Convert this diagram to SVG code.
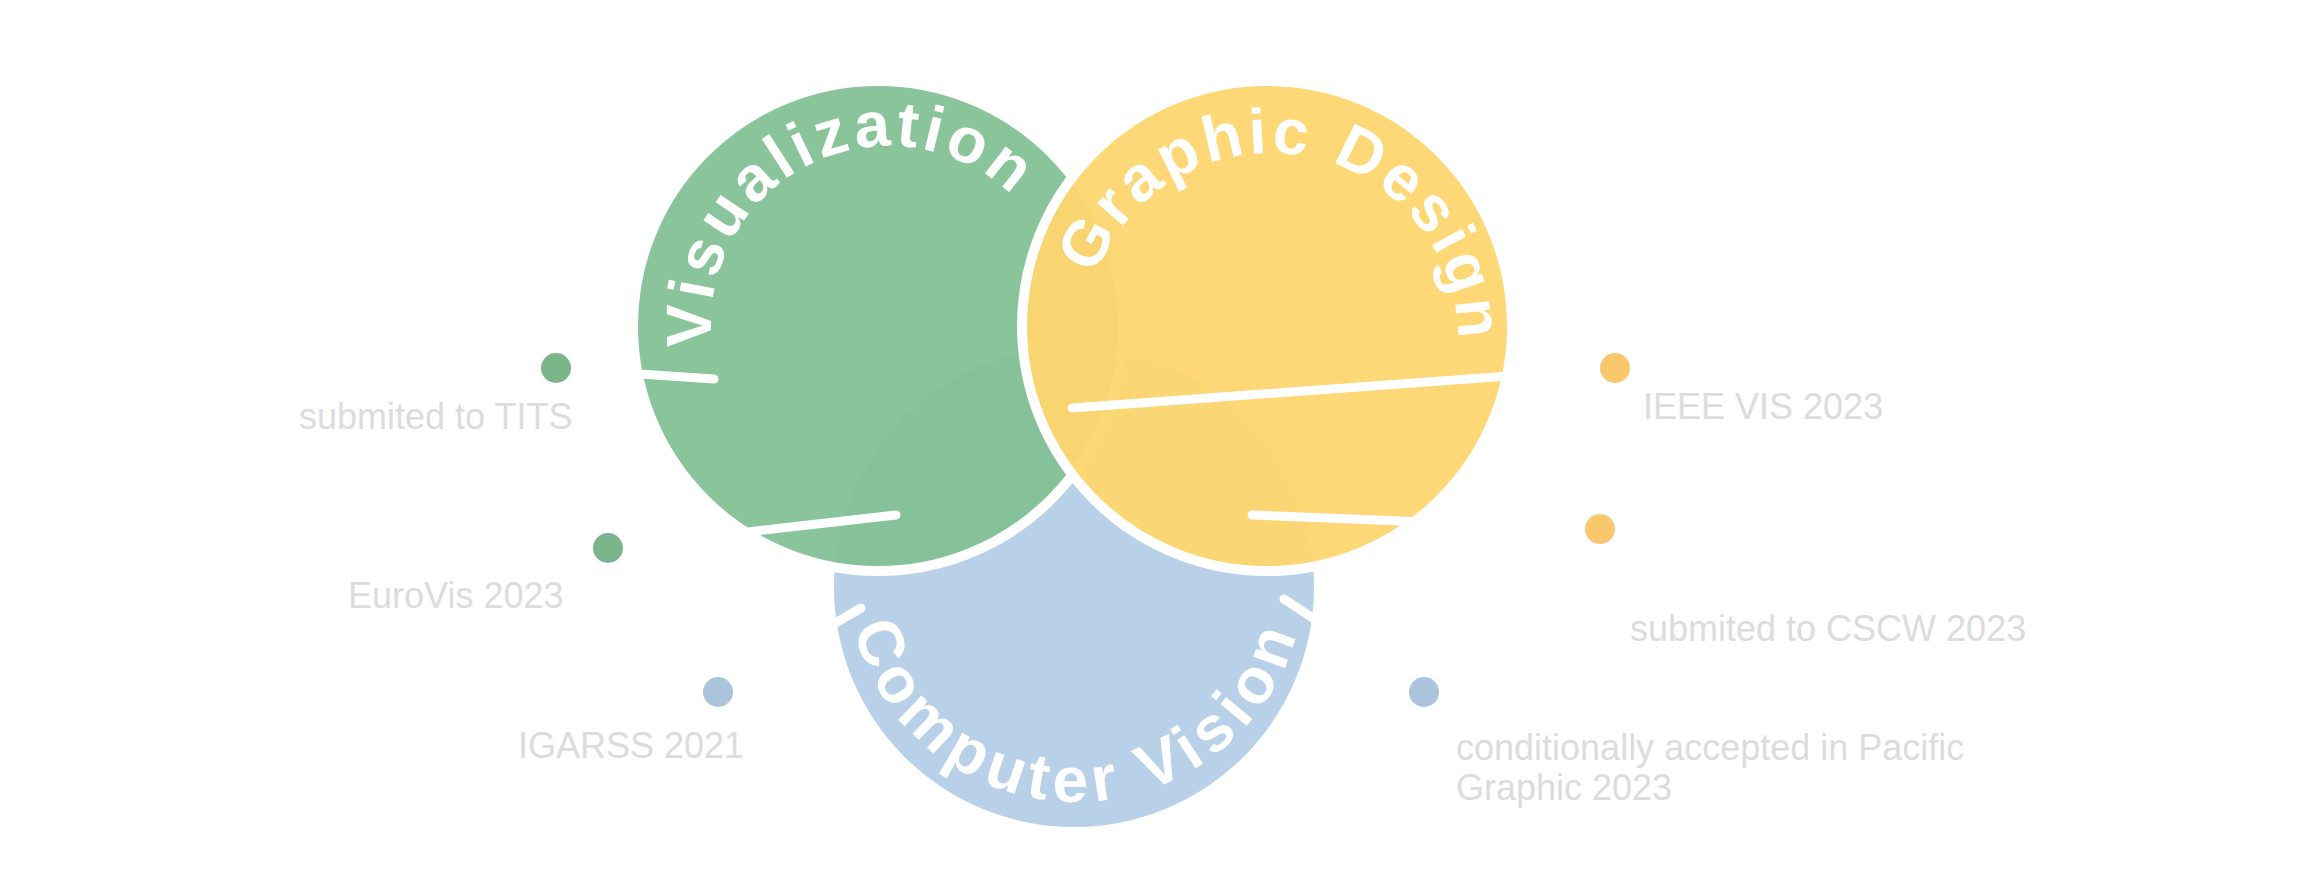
<svg xmlns="http://www.w3.org/2000/svg" width="2308" height="895" viewBox="0 0 2308 895">
<style>
.ring{stroke:#ffffff;stroke-width:10}
.arc-label{font-family:"Liberation Sans",Arial,sans-serif;font-weight:bold;font-size:64px;fill:#ffffff}
.note{font-family:"Liberation Sans",Arial,sans-serif;font-size:36px;fill:#DCDCDC}
.leader{stroke:#ffffff;stroke-width:9;stroke-linecap:round;fill:none}
.dot-g{fill:#7BB68A}
.dot-y{fill:#F9C86D}
.dot-b{fill:#ABC4DC}
</style>
<defs>
<path id="p-vis" d="M 712.5 346.9 A 178 178 0 0 1 1043.2 235"/>
<path id="p-gd" d="M 1095.3 276 A 187 187 0 0 1 1457.3 356.3"/>
<path id="p-cv" d="M 853.7 628 A 229 229 0 0 0 1304.1 593"/>
</defs>
<rect width="2308" height="895" fill="#ffffff"/>
<g id="node-computer-vision">
<circle cx="1074" cy="587" r="240" fill="#B8D1E8"/>
<text class="arc-label" letter-spacing="6.4"><textPath href="#p-cv">Computer Vision</textPath></text>
</g>
<g id="node-visualization">
<circle class="ring" cx="878" cy="326" r="245" fill="#83C195" fill-opacity="0.95"/>
<text class="arc-label" letter-spacing="4"><textPath href="#p-vis">Visualization</textPath></text>
</g>
<g id="node-graphic-design">
<circle class="ring" cx="1267" cy="326" r="245" fill="#FED66F" fill-opacity="0.95"/>
<text class="arc-label" letter-spacing="3.7"><textPath href="#p-gd">Graphic Design</textPath></text>
</g>
<g id="connectors">
<line class="leader" x1="714" y1="379" x2="581" y2="370"/>
<line class="leader" x1="896" y1="515" x2="633" y2="545"/>
<line class="leader" x1="861" y1="608" x2="740" y2="679"/>
<line class="leader" x1="1072" y1="408" x2="1590" y2="370"/>
<line class="leader" x1="1252" y1="515" x2="1575" y2="528"/>
<line class="leader" x1="1284" y1="599" x2="1403" y2="678"/>
</g>
<g id="note-tits">
<circle class="dot-g" cx="556" cy="368" r="15"/>
<text class="note" x="299" y="429">submited to TITS</text>
</g>
<g id="note-eurovis">
<circle class="dot-g" cx="608" cy="548" r="15"/>
<text class="note" x="348" y="608">EuroVis 2023</text>
</g>
<g id="note-igarss">
<circle class="dot-b" cx="718" cy="692" r="15"/>
<text class="note" x="518" y="758">IGARSS 2021</text>
</g>
<g id="note-ieeevis">
<circle class="dot-y" cx="1615" cy="368" r="15"/>
<text class="note" x="1643" y="419">IEEE VIS 2023</text>
</g>
<g id="note-cscw">
<circle class="dot-y" cx="1600" cy="529" r="15"/>
<text class="note" x="1630" y="641">submited to CSCW 2023</text>
</g>
<g id="note-pg">
<circle class="dot-b" cx="1424" cy="692" r="15"/>
<text class="note" x="1456" y="760">conditionally accepted in Pacific</text>
<text class="note" x="1456" y="800">Graphic 2023</text>
</g>
</svg>
